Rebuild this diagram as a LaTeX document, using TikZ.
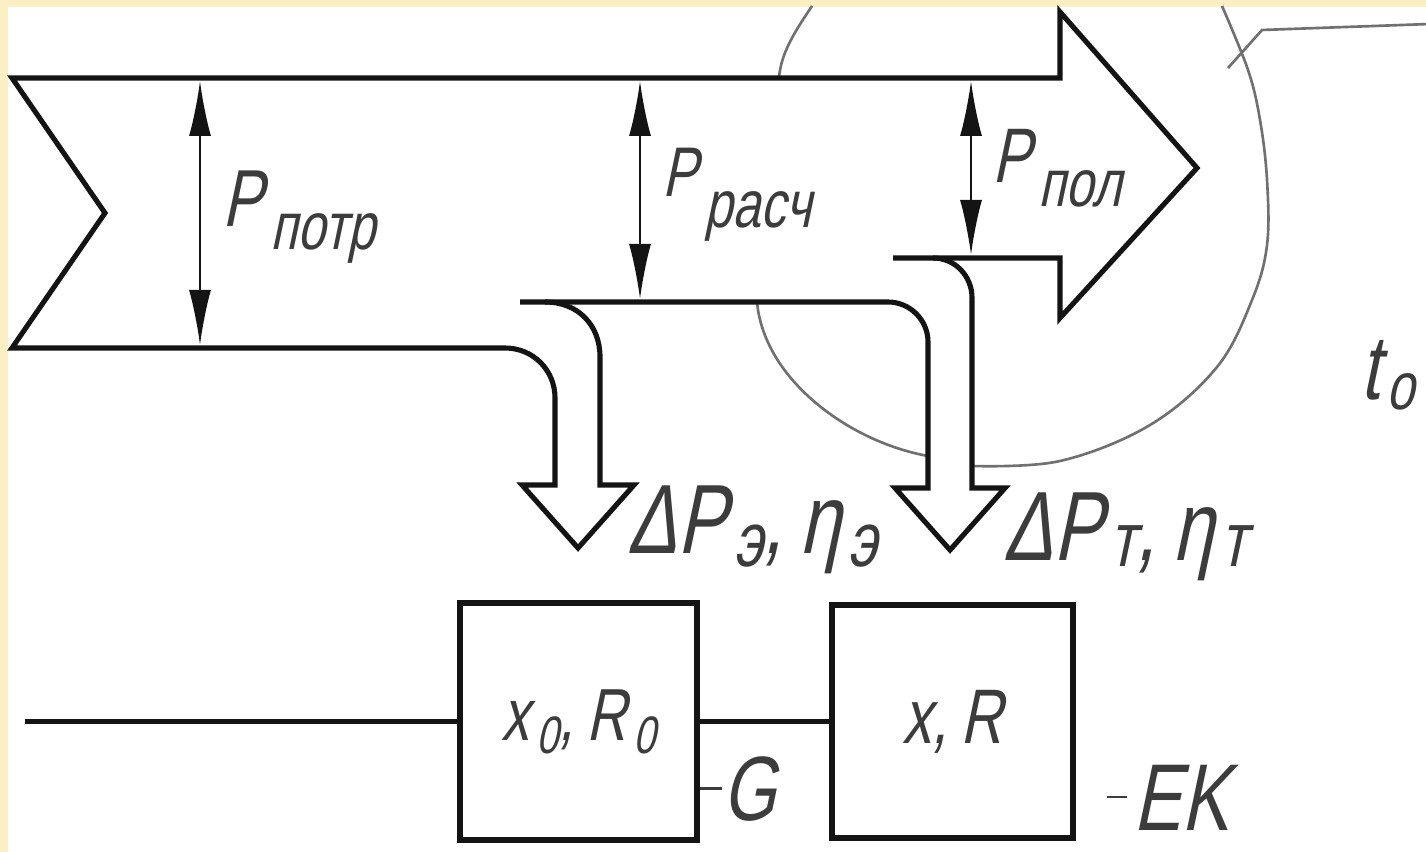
\documentclass[tikz,border=0pt]{standalone}
\usepackage{fontspec}
\setmainfont{Liberation Sans}[FakeStretch=0.75, FakeSlant=0.21]
\usetikzlibrary{arrows.meta}
\definecolor{ink}{HTML}{141414}
\definecolor{txtcol}{HTML}{3C3C3C}
\definecolor{bndcol}{HTML}{707070}
\definecolor{paper}{HTML}{FCEFC4}
\newcommand{\fsz}[1]{\fontsize{#1}{#1}\selectfont}
\newcommand{\lblsub}[3][19]{\kern0.7mm\raisebox{#2}{\fsz{#1}#3}}

\begin{document}
\begin{tikzpicture}[
    x=0.1mm, y=-0.1mm,
    flow/.style={draw=ink, line width=1.45pt, line join=miter},
    wire/.style={draw=ink, line width=1.45pt},
    blk/.style={
        draw=ink, fill=white, line width=1.6pt, inner sep=0pt,
        minimum width=23.7mm, minimum height=23.7mm,
        font=\fsz{21}, text=txtcol,
    },
    dimarr/.style={{Latex[length=5.5mm,width=2.2mm]}-{Latex[length=5.5mm,width=2.2mm]},
        draw=ink, line width=0.6pt},
    bnd/.style={draw=bndcol, line width=0.75pt},
    lbl/.style={text=txtcol, inner sep=0pt, anchor=base west},
    lead/.style={draw=txtcol, line width=0.6pt},
]

% === Page ===
\fill[paper] (0,0) rectangle (1426,852);
\fill[white] (8,7) rectangle (1426,852);
\useasboundingbox (0,0) rectangle (1426,852);

% === System boundary (thin) ===
\draw[bnd] (812,6) .. controls (796,30) and (781,52) .. (779,78);
\draw[bnd] (757,302) .. controls (764,380) and (850,442) .. (928,456);
\draw[bnd] plot[smooth, tension=0.6] coordinates {
    (972,466) (1060,461) (1150,425) (1217,367) (1252,300)
    (1267,245) (1267,180) (1260,120) (1248,70) (1222,6)};
\coordinate (bndlead) at (1228,68);
\coordinate (bndknee) at (1262,30);
\coordinate (bndend) at (1430,24);
\draw[bnd] (bndlead) -- (bndknee) -- (bndend);

% === Energy flow ===
% input notch, upper edge, output arrow
\draw[flow] (893,258) -- (1060,258) -- (1060,318) -- (1197,168) -- (1060,12)
    -- (1060,78) -- (12,78) -- (105,213) -- (12,348) -- (505,348)
    .. controls (533,348) and (555,370) .. (555,398)
    -- (555,485) -- (522,485) -- (578,548) -- (634,485) -- (600,485)
    -- (600,357) .. controls (600,325) and (578,302) .. (545,302);
% branch to the second block
\draw[flow] (520,302) -- (888,302) .. controls (910,302) and (928,320) .. (928,342)
    -- (928,488) -- (895,488) -- (950,550) -- (1005,488) -- (972,488)
    -- (972,298) .. controls (972,276) and (955,258) .. (933,258);

% === Widths ===
\coordinate (potrT) at (200,81);
\coordinate (potrB) at (200,345);
\coordinate (raschT) at (640,81);
\coordinate (raschB) at (640,299);
\coordinate (polT) at (971,81);
\coordinate (polB) at (971,255);
\draw[dimarr] (potrT) -- (potrB);
\draw[dimarr] (raschT) -- (raschB);
\draw[dimarr] (polT) -- (polB);

\node[lbl] (lpotr) at (222,227) {\fsz{23}P\lblsub{-2.3mm}{потр}};
\node[lbl] (lrasch) at (662,197) {\fsz{20}P\lblsub{-3.1mm}{расч}};
\node[lbl] (lpol) at (992,183) {\fsz{22}P\lblsub{-2.4mm}{пол}};

% === Losses ===
\node[lbl] (lde) at (627,553)
    {\fsz{28}ΔP\lblsub[22]{-1.4mm}{э}\fsz{28},\,η\lblsub[22]{-1.4mm}{э}};
\node[lbl] (ldt) at (1003,560)
    {\fsz{28}ΔP\lblsub[22]{-0.7mm}{т}\fsz{28},\,η\lblsub[22]{-0.7mm}{т}};

% === Blocks ===
\coordinate (inl) at (25,721.5);
\node[blk] (xr0) at (578.5,721.5) {x\lblsub[15]{-1.3mm}{0},\,R\lblsub[15]{-1.3mm}{0}};
\node[blk, minimum width=24.1mm, minimum height=23.3mm, font=\fsz{22}]
    (xr) at (952.5,721.5) {x,\,R};

\draw[wire] (inl) -- (xr0);
\draw[wire] (xr0) -- (xr);

\node[lbl] (lg) at (722,820) {\fsz{26}G};
\draw[lead] (xr0.east |- lg.west) -- (lg.west);
\node[lbl] (lek) at (1133,830) {\fsz{27}EK};
\draw[lead] ([xshift=-0.6mm]lek.west) -- ++(-20,0);

\node[lbl] (lto) at (1360,400) {\fsz{26}t\lblsub{-1mm}{о}};

\end{tikzpicture}
\end{document}
